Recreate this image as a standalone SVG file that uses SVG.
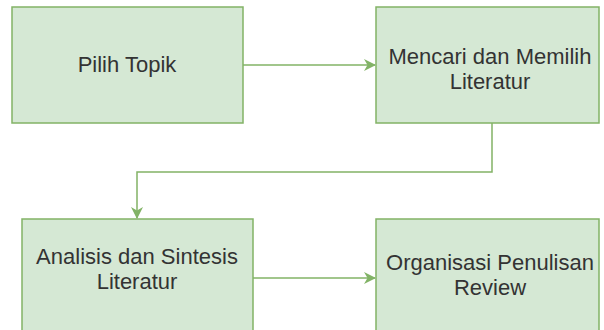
<svg xmlns="http://www.w3.org/2000/svg" width="604" height="330" viewBox="0 0 604 330">
<style>
.box{fill:#d5e8d4;stroke:#82b366;stroke-width:1.5}
.lbl{font-family:"Liberation Sans",Arial,sans-serif;font-size:22px;fill:#333333;text-anchor:middle}
.edge{fill:none;stroke:#82b366;stroke-width:1.5}
</style>
<defs>
<marker id="arr" viewBox="0 0 12 12" refX="11" refY="6" markerWidth="12" markerHeight="12" markerUnits="userSpaceOnUse" orient="auto">
<path d="M0,0 L12,6 L0,12 L3.5,6 Z" fill="#82b366"/>
</marker>
</defs>
<g id="n1">
<rect class="box" x="12" y="7" width="231" height="116"/>
<text class="lbl" x="127" y="72">Pilih Topik</text>
</g>
<g id="n2">
<rect class="box" x="376" y="7" width="223" height="116"/>
<text class="lbl" x="490" y="64">Mencari dan Memilih</text>
<text class="lbl" x="490" y="89">Literatur</text>
</g>
<g id="n3">
<rect class="box" x="22" y="219" width="231" height="125"/>
<text class="lbl" x="137" y="264">Analisis dan Sintesis</text>
<text class="lbl" x="137" y="289">Literatur</text>
</g>
<g id="n4">
<rect class="box" x="376" y="219" width="223" height="125"/>
<text class="lbl" x="490" y="270">Organisasi Penulisan</text>
<text class="lbl" x="490" y="295">Review</text>
</g>
<g id="edges">
<path class="edge" d="M243,65 H375" marker-end="url(#arr)"/>
<path class="edge" d="M492,123 V172 H137 V218" marker-end="url(#arr)"/>
<path class="edge" d="M253,278 H375" marker-end="url(#arr)"/>
</g>
</svg>
